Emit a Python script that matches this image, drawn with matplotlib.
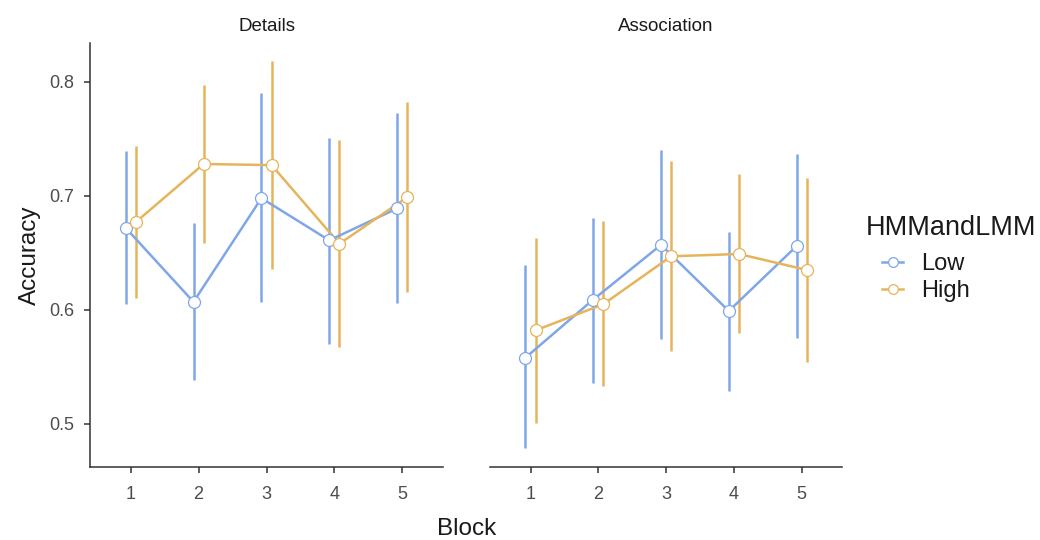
import matplotlib
matplotlib.use("Agg")
import matplotlib.pyplot as plt
import numpy as np
from matplotlib.lines import Line2D

plt.rcParams['font.family'] = ['Liberation Sans', 'DejaVu Sans']

blocks = [1, 2, 3, 4, 5]
panels = ["Details", "Association"]
groups = ["Low", "High"]
colors = {"Low": "#7FA7E8", "High": "#E6B45A"}

# Details
det_low_mean = [0.672, 0.607, 0.698, 0.661, 0.689]
det_low_lo = [0.605, 0.538, 0.607, 0.570, 0.606]
det_low_hi = [0.739, 0.676, 0.790, 0.751, 0.773]
det_high_mean = [0.677, 0.728, 0.727, 0.658, 0.699]
det_high_lo = [0.610, 0.659, 0.636, 0.567, 0.616]
det_high_hi = [0.744, 0.797, 0.818, 0.749, 0.782]
# Association
ass_low_mean = [0.558, 0.609, 0.657, 0.599, 0.656]
ass_low_lo = [0.479, 0.536, 0.574, 0.529, 0.575]
ass_low_hi = [0.639, 0.681, 0.740, 0.668, 0.737]
ass_high_mean = [0.582, 0.605, 0.647, 0.649, 0.635]
ass_high_lo = [0.501, 0.533, 0.564, 0.580, 0.554]
ass_high_hi = [0.663, 0.678, 0.731, 0.719, 0.716]

data = {
    "Details": {"Low": (det_low_mean, det_low_lo, det_low_hi),
                "High": (det_high_mean, det_high_lo, det_high_hi)},
    "Association": {"Low": (ass_low_mean, ass_low_lo, ass_low_hi),
                    "High": (ass_high_mean, ass_high_lo, ass_high_hi)},
}
dodge = {"Low": -0.075, "High": 0.075}

fig = plt.figure(figsize=(10.4, 5.4), dpi=100)
axl = fig.add_axes([0.0865, 0.135, 0.3395, 0.785])
axr = fig.add_axes([0.471, 0.135, 0.339, 0.785], sharey=axl)
tick_color = "#4d4d4d"
for ax, panel in zip([axl, axr], panels):
    for g in groups:
        m, lo, hi = data[panel][g]
        x = np.array(blocks) + dodge[g]
        m = np.array(m); lo = np.array(lo); hi = np.array(hi)
        ax.errorbar(x, m, yerr=[m - lo, hi - m], fmt='none', ecolor=colors[g],
                    elinewidth=1.8, capsize=0, zorder=2)
        ax.plot(x, m, '-', color=colors[g], lw=1.8, zorder=3)
        ax.plot(x, m, 'o', mfc='white', mec=colors[g], ms=8.6, mew=0.9, zorder=4)
    ax.set_xlim(0.4, 5.6)
    ax.set_ylim(0.462, 0.834)
    ax.set_xticks(blocks)
    ax.set_xticklabels([str(b) for b in blocks])
    for s in ["top", "right"]:
        ax.spines[s].set_visible(False)
    ax.spines["bottom"].set_color("#333333")
    ax.spines["left"].set_color("#333333")
    ax.spines["bottom"].set_linewidth(1.1)
    ax.spines["left"].set_linewidth(1.1)
    ax.tick_params(axis='both', colors="#333333", labelcolor=tick_color, labelsize=13,
                   length=4.5, width=1.1)
    ax.tick_params(axis='x', pad=9)
    ax.tick_params(axis='y', pad=7)
    ax.set_title(panel, fontsize=13.5, color="#1a1a1a", pad=9)

axl.set_yticks([0.5, 0.6, 0.7, 0.8])
axl.set_yticklabels(["0.5", "0.6", "0.7", "0.8"])
axl.set_ylabel("Accuracy", fontsize=17.5, color="#1a1a1a", labelpad=6)
axr.spines["left"].set_visible(False)
axr.tick_params(axis='y', left=False, labelleft=False)
fig.text(0.449, 0.0, "Block", fontsize=17.5, color="#1a1a1a", ha='center', va='bottom')

handles = [Line2D([0], [0], color=colors[g], lw=1.8, marker='o', mfc='white',
                  mec=colors[g], ms=7, mew=0.9) for g in groups]
leg = fig.legend(handles, groups, title="HMMandLMM", loc='center left',
                 bbox_to_anchor=(0.832, 0.506), frameon=False, fontsize=17,
                 title_fontsize=19.5, handlelength=0.9, handletextpad=0.75,
                 labelspacing=0.2, borderaxespad=0, borderpad=0)
leg._legend_box.align = "left"
leg._legend_handle_box.pad = 12
leg._legend_box.sep = -3
for t in leg.get_texts():
    t.set_color("#1a1a1a")
leg.get_title().set_color("#1a1a1a")

fig.savefig("out.png", dpi=100)
